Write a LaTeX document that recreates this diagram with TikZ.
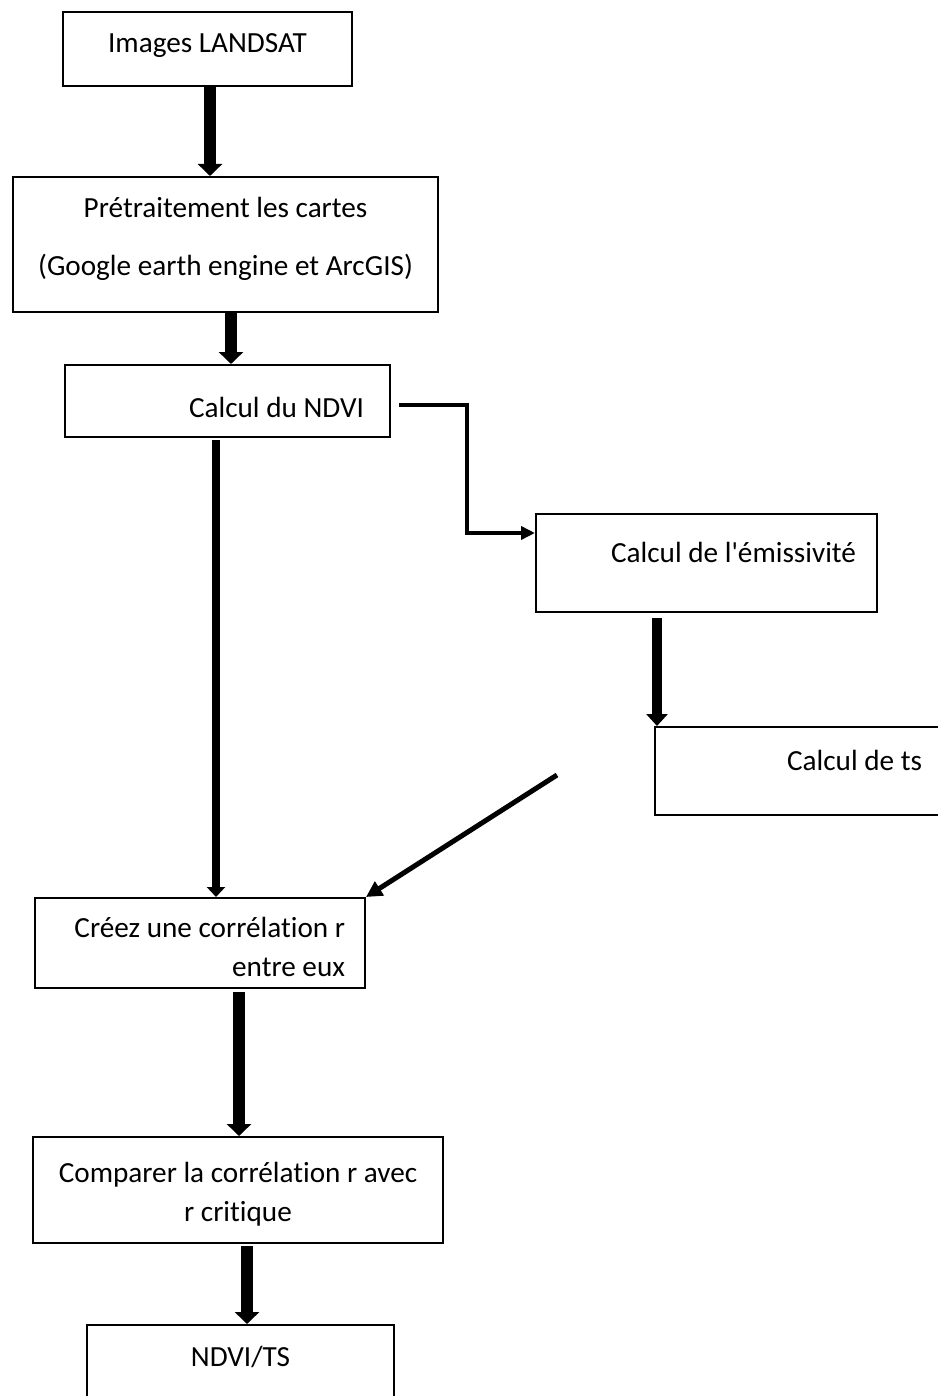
\documentclass[tikz,border=0pt]{standalone}
\usepackage{fontspec}
\setmainfont{Carlito}[Ligatures={NoCommon}]
\usetikzlibrary{arrows.meta}
\newcommand{\decale}[2]{\raisebox{#1}[\height][\depth]{#2}}
\tikzset{
  etape/.style={draw, line width=1pt, inner sep=0pt, align=center,
    font=\fontsize{14.6}{19.5}\selectfont},
  adroite/.style={align=flush right},
  grosse/.style={line width=6pt, -{Triangle[width=12pt,length=6pt]}},
  moyenne/.style={line width=4pt, -{Triangle[width=9pt,length=5pt]}},
  fine/.style={line width=2pt, -{Triangle[width=6.5pt,length=7pt]}},
}
\begin{document}
\begin{tikzpicture}[x=0.5pt,y=-0.5pt]
    \useasboundingbox (0,0) rectangle (937,1396);
    % boxes
    \node[etape, minimum width=144.5pt, minimum height=37pt] (landsat) at (207.5,49) {\decale{1.5pt}{Images LANDSAT}};
    \node[etape, minimum width=212.5pt, minimum height=67.5pt] (pretrait) at (225.5,244.5)
        {\decale{3pt}{Prétraitement les cartes}\\[9.5pt]\decale{3pt}{(Google earth engine et ArcGIS)}};
    \node[etape, adroite, inner xsep=13pt, text width=136.5pt, minimum height=36pt] (ndvi) at (227.5,401)
        {\decale{-3pt}{Calcul du NDVI}};
    \node[etape, adroite, inner xsep=10.5pt, text width=149.5pt, minimum height=49pt] (emis) at (706.5,563)
        {\decale{5.5pt}{Calcul de l\textquotesingle émissivité}};
    \node[etape, adroite, inner xsep=10pt, text width=123.5pt, minimum height=44pt] (ts) at (798.5,771)
        {\decale{5.5pt}{Calcul de ts}};
    \node[etape, adroite, inner xsep=10pt, text width=145pt, minimum height=45pt] (correl) at (200,943)
        {\decale{-2pt}{Créez une corrélation r}\\\decale{-2pt}{entre eux}};
    \node[etape, minimum width=205pt, minimum height=53pt] (compar) at (238,1190)
        {\decale{-2pt}{Comparer la corrélation r avec}\\\decale{-2pt}{r critique}};
    \node[etape, minimum width=153.5pt, minimum height=40pt] (ndvits) at (240.5,1365) {\decale{4pt}{NDVI/TS}};
    % arrows
    \draw[grosse] (landsat.south -| 210,0) -- (pretrait.north -| 210,0);
    \draw[grosse] (pretrait.south -| 231,0) -- (ndvi.north -| 231,0);
    \draw[moyenne] (216,440) -- (correl.north -| 216,0);
    \draw[fine] (399,405) -| (467,533) -- (emis.west |- 0,533);
    \draw[line width=5pt, -{Triangle[width=10.5pt,length=6pt]}] (657,618) -- (ts.north -| 657,0);
    \coordinate (tsfin) at (557,775);
    \draw[line width=2.5pt, -{Triangle[width=8pt,length=8pt]}] (tsfin) -- (correl.north east);
    \draw[grosse] (239,992) -- (compar.north -| 239,0);
    \draw[grosse] (247,1246) -- (ndvits.north -| 247,0);
\end{tikzpicture}
\end{document}
